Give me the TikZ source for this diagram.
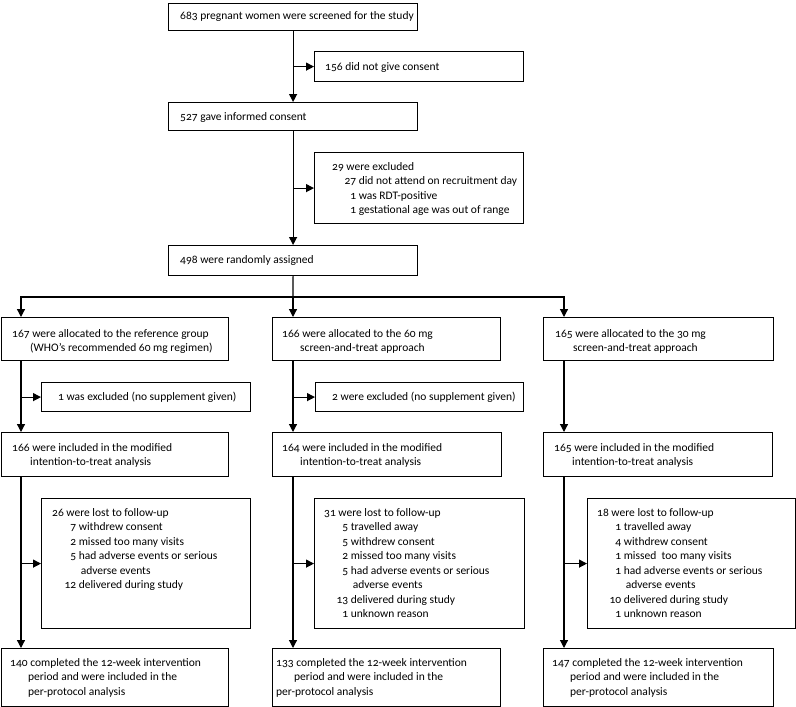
\documentclass[tikz,border=0pt]{standalone}
\usepackage{fontspec}
\setmainfont{Carlito}[Numbers=OldStyle]
\usetikzlibrary{arrows.meta}
\newcommand\nm[2]{\makebox[24pt][r]{#1}\ #2}
\newcommand\cn[1]{\makebox[24pt]{}\ #1}
\newcommand\ind[1]{\hspace*{18pt}#1}
\newcommand\tl[1]{\begin{tabular}[t]{@{}l@{}}#1\end{tabular}}
\begin{document}
\begin{tikzpicture}[x=1pt,y=-1pt,
  box/.style={draw, line width=1.2pt, anchor=north west, inner sep=0pt},
  txt/.style={anchor=base west, inner sep=0pt, font=\fontsize{11.5}{14.5}\selectfont},
  arr/.style={line width=1.2pt, -{Triangle[length=8pt,width=8pt]}},
  ln/.style={line width=1.2pt}]
\useasboundingbox (0,0) rectangle (796,707);
% boxes
\node[box,minimum width=249pt,minimum height=27pt] (A) at (168,3) {};
\node[box,minimum width=209pt,minimum height=30pt] (B) at (314,51) {};
\node[box,minimum width=249pt,minimum height=28pt] (C) at (168,102) {};
\node[box,minimum width=209pt,minimum height=71pt] (D) at (314,152) {};
\node[box,minimum width=249pt,minimum height=30pt] (E) at (168,245) {};
\node[box,minimum width=227pt,minimum height=43pt] (F1) at (1,317) {};
\node[box,minimum width=228pt,minimum height=43pt] (F2) at (272,317) {};
\node[box,minimum width=230pt,minimum height=43pt] (F3) at (543,317) {};
\node[box,minimum width=209pt,minimum height=29pt] (G1) at (41,382) {};
\node[box,minimum width=208pt,minimum height=29pt] (G2) at (315,382) {};
\node[box,minimum width=227pt,minimum height=44pt] (H1) at (1,432) {};
\node[box,minimum width=229pt,minimum height=44pt] (H2) at (272,432) {};
\node[box,minimum width=229pt,minimum height=44pt] (H3) at (543,432) {};
\node[box,minimum width=209pt,minimum height=130pt] (I1) at (41,498) {};
\node[box,minimum width=210pt,minimum height=130pt] (I2) at (314,498) {};
\node[box,minimum width=208pt,minimum height=130pt] (I3) at (587,498) {};
\node[box,minimum width=227pt,minimum height=58pt] (J1) at (1,648) {};
\node[box,minimum width=228pt,minimum height=58pt] (J2) at (272,648) {};
\node[box,minimum width=230pt,minimum height=58pt] (J3) at (543,648) {};
% texts
\node[txt] (tA) at (180,19.5) {683 pregnant women were screened for the study};
\node[txt] (tB) at (325,70) {156 did not give consent};
\node[txt] (tC) at (180,120) {527 gave informed consent};
\node[txt] (tD) at (332,170) {\tl{29 were excluded\\
  \nm{27}{did not attend on recruitment day}\\
  \nm{1}{was RDT-positive}\\
  \nm{1}{gestational age was out of range}}};
\node[txt] (tE) at (180,263) {498 were randomly assigned};
\node[txt] (tF1) at (12,337) {\tl{167 were allocated to the reference group\\
  \ind{(WHO’s recommended 60 mg regimen)}}};
\node[txt] (tF2) at (282,337) {\tl{166 were allocated to the 60 mg\\
  \ind{screen-and-treat approach}}};
\node[txt] (tF3) at (555,337) {\tl{165 were allocated to the 30 mg\\
  \ind{screen-and-treat approach}}};
\node[txt] (tG1) at (58,400) {1 was excluded (no supplement given)};
\node[txt] (tG2) at (332,400) {2 were excluded (no supplement given)};
\node[txt] (tH1) at (12,451) {\tl{166 were included in the modified\\
  \ind{intention-to-treat analysis}}};
\node[txt] (tH2) at (282,451) {\tl{164 were included in the modified\\
  \ind{intention-to-treat analysis}}};
\node[txt] (tH3) at (554,451) {\tl{165 were included in the modified\\
  \ind{intention-to-treat analysis}}};
\node[txt] (tI1) at (52,516) {\tl{26 were lost to follow-up\\
  \nm{7}{withdrew consent}\\
  \nm{2}{missed too many visits}\\
  \nm{5}{had adverse events or serious}\\
  \cn{\hspace*{2pt}adverse events}\\
  \nm{12}{delivered during study}}};
\node[txt] (tI2) at (324,516) {\tl{31 were lost to follow-up\\
  \nm{5}{travelled away}\\
  \nm{5}{withdrew consent}\\
  \nm{2}{missed too many visits}\\
  \nm{5}{had adverse events or serious}\\
  \cn{\hspace*{2pt}adverse events}\\
  \nm{13}{delivered during study}\\
  \nm{1}{unknown reason}}};
\node[txt] (tI3) at (597,516) {\tl{18 were lost to follow-up\\
  \nm{1}{travelled away}\\
  \nm{4}{withdrew consent}\\
  \nm{1}{missed\ \ too many visits}\\
  \nm{1}{had adverse events or serious}\\
  \cn{\hspace*{2pt}adverse events}\\
  \nm{10}{delivered during study}\\
  \nm{1}{unknown reason}}};
\node[txt] (tJ1) at (10,666) {\tl{140 completed the 12-week intervention\\
  \ind{period and were included in the}\\
  \ind{per-protocol analysis}}};
\node[txt] (tJ2) at (276,666) {\tl{133 completed the 12-week intervention\\
  \ind{period and were included in the}\\
  per-protocol analysis}};
\node[txt] (tJ3) at (552,666) {\tl{147 completed the 12-week intervention\\
  \ind{period and were included in the}\\
  \ind{per-protocol analysis}}};
% connectors
\coordinate (k1) at (21,297);
\coordinate (k2) at (293,297);
\coordinate (k3) at (564,297);
\draw[arr] (A.south) -- (C.north);
\draw[arr] (A.south |- B.west) -- (B.west);
\draw[arr] (C.south) -- (E.north);
\draw[arr] (C.south |- D.west) -- (D.west);
\draw[ln] (E.south) -- (k2);
\draw[arr] (k2) -| (k1 |- F1.north);
\draw[arr] (k2) -| (k3 |- F3.north);
\draw[arr] (k2) -- (k2 |- F2.north);
% column 1
\draw[arr] (k1 |- F1.south) -- (k1 |- H1.north);
\draw[arr] (k1 |- G1.west) -- (G1.west);
\draw[arr] (k1 |- H1.south) -- (k1 |- J1.north);
\draw[arr] (k1 |- I1.west) -- (I1.west);
% column 2
\draw[arr] (k2 |- F2.south) -- (k2 |- H2.north);
\draw[arr] (k2 |- G2.west) -- (G2.west);
\draw[arr] (k2 |- H2.south) -- (k2 |- J2.north);
\draw[arr] (k2 |- I2.west) -- (I2.west);
% column 3
\draw[arr] (k3 |- F3.south) -- (k3 |- H3.north);
\draw[arr] (k3 |- H3.south) -- (k3 |- J3.north);
\draw[arr] (k3 |- I3.west) -- (I3.west);
\end{tikzpicture}
\end{document}
